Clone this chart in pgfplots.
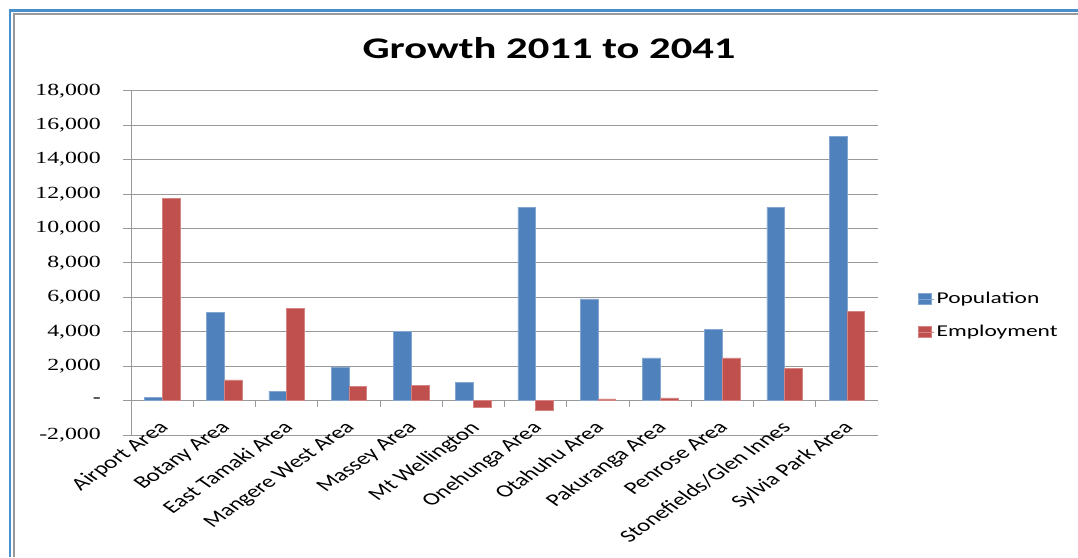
\documentclass[border=0pt]{standalone}
\usepackage{pgfplots}
\pgfplotsset{compat=1.18}
\usepackage{fontspec}
\setmainfont{Carlito}
\newfontfamily\titlefont[FakeStretch=1.42]{Carlito}
\newfontfamily\legfont[FakeStretch=1.42]{Carlito}
\newfontfamily\yfont[FakeStretch=1.4]{Liberation Serif}
\definecolor{popblue}{HTML}{4F81BD}
\definecolor{empred}{HTML}{C0504D}
\definecolor{gridgray}{HTML}{999999}
\definecolor{frameblue}{HTML}{4A8FCB}
\begin{document}
\begin{tikzpicture}
\fill[white] (0,0) rectangle (1078pt,-557pt);
\path[use as bounding box] (0,0) rectangle (1078pt,-557pt);
\draw[frameblue, line width=2.4pt] (10pt,-557pt) -- (10pt,-10.3pt) -- (1078pt,-10.3pt);
\draw[gray!80, line width=1.2pt] (14pt,-557pt) -- (14pt,-14pt) -- (1078pt,-14pt);
\begin{axis}[
  at={(131pt,-435pt)}, anchor=south west,
  scale only axis, width=747pt, height=344.3pt,
  xmin=-0.5, xmax=11.5, ymin=-2000, ymax=18000,
  axis lines*=left,
  axis line style={gridgray, line width=0.9pt},
  ybar=0pt, bar width=0.284,
  scaled y ticks=false,
  ytick={-2000,0,2000,4000,6000,8000,10000,12000,14000,16000,18000},
  yticklabels={{-2,000},{-\hspace{14pt}},{2,000},{4,000},{6,000},{8,000},{10,000},{12,000},{14,000},{16,000},{18,000}},
  yticklabel style={font=\yfont\fontsize{17}{17}\selectfont, anchor=east, inner sep=0pt, xshift=-22pt},
  tick align=outside, major tick length=8pt,
  ytick style={gridgray, line width=0.9pt},
  xtick={0,1,2,3,4,5,6,7,8,9,10,11},
  xtick style={draw=none},
  xticklabels={Airport Area, Botany Area, East Tamaki Area, Mangere West Area, Massey Area, Mt Wellington, Onehunga Area, Otahuhu Area, Pakuranga Area, Penrose Area, Stonefields/Glen Innes, Sylvia Park Area},
  xticklabel style={font=\fontsize{17.6}{17.6}\selectfont, anchor=north east, inner sep=0pt, xshift=-5pt, yshift=23pt, xscale=1.42, rotate=45},
  ymajorgrids, grid style={gridgray, line width=0.9pt},
  title={Growth 2011 to 2041},
  title style={font=\titlefont\bfseries\fontsize{30}{30}\selectfont, at={(0.5596,1.076)}, anchor=base},
  legend style={at={(1.0495,0.426)}, anchor=north west, draw=none, fill=none,
    font=\legfont\fontsize{16.5}{18}\selectfont, row sep=16pt},
  legend cell align=left,
  legend image code/.code={\fill[#1] (0pt,-5.3pt) rectangle (12.5pt,5.3pt); \path (0pt,0pt) -- (16pt,0pt);},
]
\addplot[fill=popblue, draw=popblue!70!white, line width=0.5pt, bar shift=-0.142] coordinates {
(0,200) (1,5140) (2,550) (3,1960) (4,4040) (5,1050) (6,11220) (7,5910) (8,2480) (9,4150) (10,11220) (11,15360)};
\addplot[fill=empred, draw=empred!70!white, line width=0.5pt, bar shift=0.142] coordinates {
(0,11730) (1,1200) (2,5370) (3,820) (4,870) (5,-400) (6,-580) (7,100) (8,160) (9,2480) (10,1880) (11,5200)};
\legend{Population, Employment}
\pgfplotsinvokeforeach{0.5,1.5,2.5,3.5,4.5,5.5,6.5,7.5,8.5,9.5,10.5,11.5}{
  \draw[gridgray, line width=0.9pt] (axis cs:#1,0) -- ++(0pt,-6pt);
}
\end{axis}
\end{tikzpicture}
\end{document}
